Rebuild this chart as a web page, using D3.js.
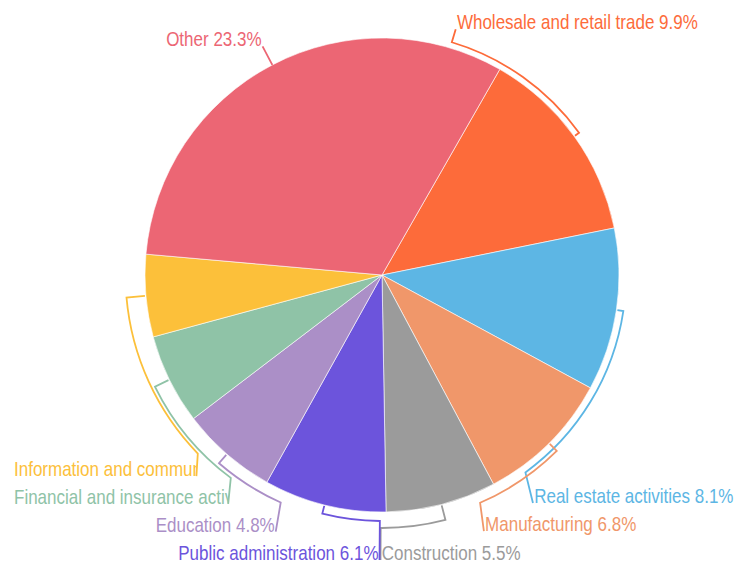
<!DOCTYPE html>
<meta charset="utf-8">
<title>Employment by sector</title>
<script src="https://cdn.jsdelivr.net/npm/d3@7"></script>
<style>
body {
	margin: 0;
	background: #fff;
}
</style>
<body>
<script>
// Data
const sectors = [
	'Wholesale and retail trade',
	'Real estate activities',
	'Manufacturing',
	'Construction',
	'Public administration',
	'Education',
	'Financial and insurance activities',
	'Information and communication',
	'Other',
];
const shares = [9.9, 8.1, 6.8, 5.5, 6.1, 4.8, 4.5, 4.1, 23.3];
const colors = [
	'#fd6b3a',
	'#5db6e4',
	'#f0976a',
	'#9b9b9b',
	'#6c54dc',
	'#ab8fc7',
	'#8fc3a7',
	'#fcc03a',
	'#ec6674',
];

// Label line layout: radius offset of the bracket, angle where it ends,
// then the polar point where the connector meets the text (degrees)
const labelLayout = [
	{ arcOffset: 6, arcEnd: 16.7, endR: 256.5, endA: 16.7 },
	{ arcOffset: 7, arcEnd: 144, endR: 273.5, endA: 146.5 },
	{ arcOffset: 11, arcEnd: 156.7, endR: 275.6, endA: 158.3 },
	{ arcOffset: 16, arcEnd: 180.3, endR: 285, endA: 180.3 },
	{ arcOffset: 9, arcEnd: 180.5, endR: 285, endA: 180.5 },
	{ arcOffset: 12, arcEnd: 204, endR: 277.7, endA: 202.5 },
	{ arcOffset: 16, arcEnd: 216.7, endR: 275.8, endA: 213.9 },
	{ arcOffset: 19.5, arcEnd: 225.9, endR: 273.7, endA: 222.7 },
	{ arcOffset: 0, arcEnd: null, endR: 258, endA: null },
];

const width = 746;
const height = 565;
const cx = 382;
const cy = 275;
const radius = 237;
const startAngle = 29.8;
const fontSize = 21;
// no narrow font installed, so squeeze a regular one
const squeeze = 0.81;
const leftMargin = 14;
const rad = deg => deg * Math.PI / 180;
const polar = (a, r) => [r * Math.sin(a), -r * Math.cos(a)];

const data = sectors.map((name, i) => ({ name, value: shares[i], color: colors[i], layout: labelLayout[i] }));

const pie = d3.pie()
	.sort(null)
	.value(d => d.value)
	.startAngle(rad(startAngle))
	.endAngle(rad(startAngle + 360));
const arc = d3.arc()
	.innerRadius(0)
	.outerRadius(radius);

const svg = d3.select('body')
	.append('svg')
		.attr('width', width)
		.attr('height', height)
		.attr('font-family', '"Liberation Sans", Arial, sans-serif');

const g = svg.append('g')
	.attr('transform', `translate(${cx}, ${cy})`);

const arcs = pie(data);

// Slices
g.selectAll('path.slice')
	.data(arcs)
	.enter()
	.append('path')
		.attr('class', 'slice')
		.attr('d', arc)
		.attr('fill', d => d.data.color)
		.attr('stroke', '#fff')
		.attr('stroke-width', 0.6);

// Label lines
function linePath(d) {
	const mid = (d.startAngle + d.endAngle) / 2;
	const l = d.data.layout;
	const arcR = radius + l.arcOffset;
	const arcEnd = l.arcEnd === null ? mid : rad(l.arcEnd);
	const endA = l.endA === null ? mid : rad(l.endA);
	const p = d3.path();
	const p0 = polar(mid, radius + 1);
	const p1 = polar(mid, arcR);
	p.moveTo(p0[0], p0[1]);
	p.lineTo(p1[0], p1[1]);
	if (arcEnd !== mid) {
		p.arc(0, 0, arcR, mid - Math.PI / 2, arcEnd - Math.PI / 2, arcEnd < mid);
	}
	const p2 = polar(endA, l.endR);
	p.lineTo(p2[0], p2[1]);
	return p.toString();
}

g.selectAll('path.label-line')
	.data(arcs)
	.enter()
	.append('path')
		.attr('class', 'label-line')
		.attr('d', linePath)
		.attr('fill', 'none')
		.attr('stroke', d => d.data.color)
		.attr('stroke-width', 1.8);

// Labels
const labelGroups = g.selectAll('g.label')
	.data(arcs)
	.enter()
	.append('g')
		.attr('class', 'label');

labelGroups.append('text')
	.attr('font-size', fontSize)
	.attr('fill', d => d.data.color)
	.text(d => `${d.data.name} ${d.data.value}%`);

labelGroups.each(function(d, i) {
	const mid = (d.startAngle + d.endAngle) / 2;
	const l = d.data.layout;
	const endA = l.endA === null ? mid : rad(l.endA);
	const [x, y] = polar(endA, l.endR);
	const group = d3.select(this);
	const text = group.select('text');
	const w = text.node().getComputedTextLength() * squeeze;
	const rightSide = Math.sin(endA) > 0.01 || (Math.abs(Math.sin(endA)) <= 0.01 && i === 3);
	const place = (tx, anchor) => text
		.attr('text-anchor', anchor)
		.attr('transform', `translate(${tx}, ${y}) scale(${squeeze}, 1)`);
	if (rightSide) {
		place(x + 1.2, 'start');
		return;
	}
	const room = (cx + x) - leftMargin;
	if (w <= room) {
		place(x - 1, 'end');
		return;
	}
	// Too long: start at the margin and cut at the connector
	const clipId = `clip-${i}`;
	svg.append('clipPath')
		.attr('id', clipId)
		.append('rect')
			.attr('x', leftMargin - cx)
			.attr('y', y - fontSize * 1.2)
			.attr('width', room)
			.attr('height', fontSize * 1.6);
	place(leftMargin - cx, 'start');
	group.attr('clip-path', `url(#${clipId})`);
});
</script>
</body>
